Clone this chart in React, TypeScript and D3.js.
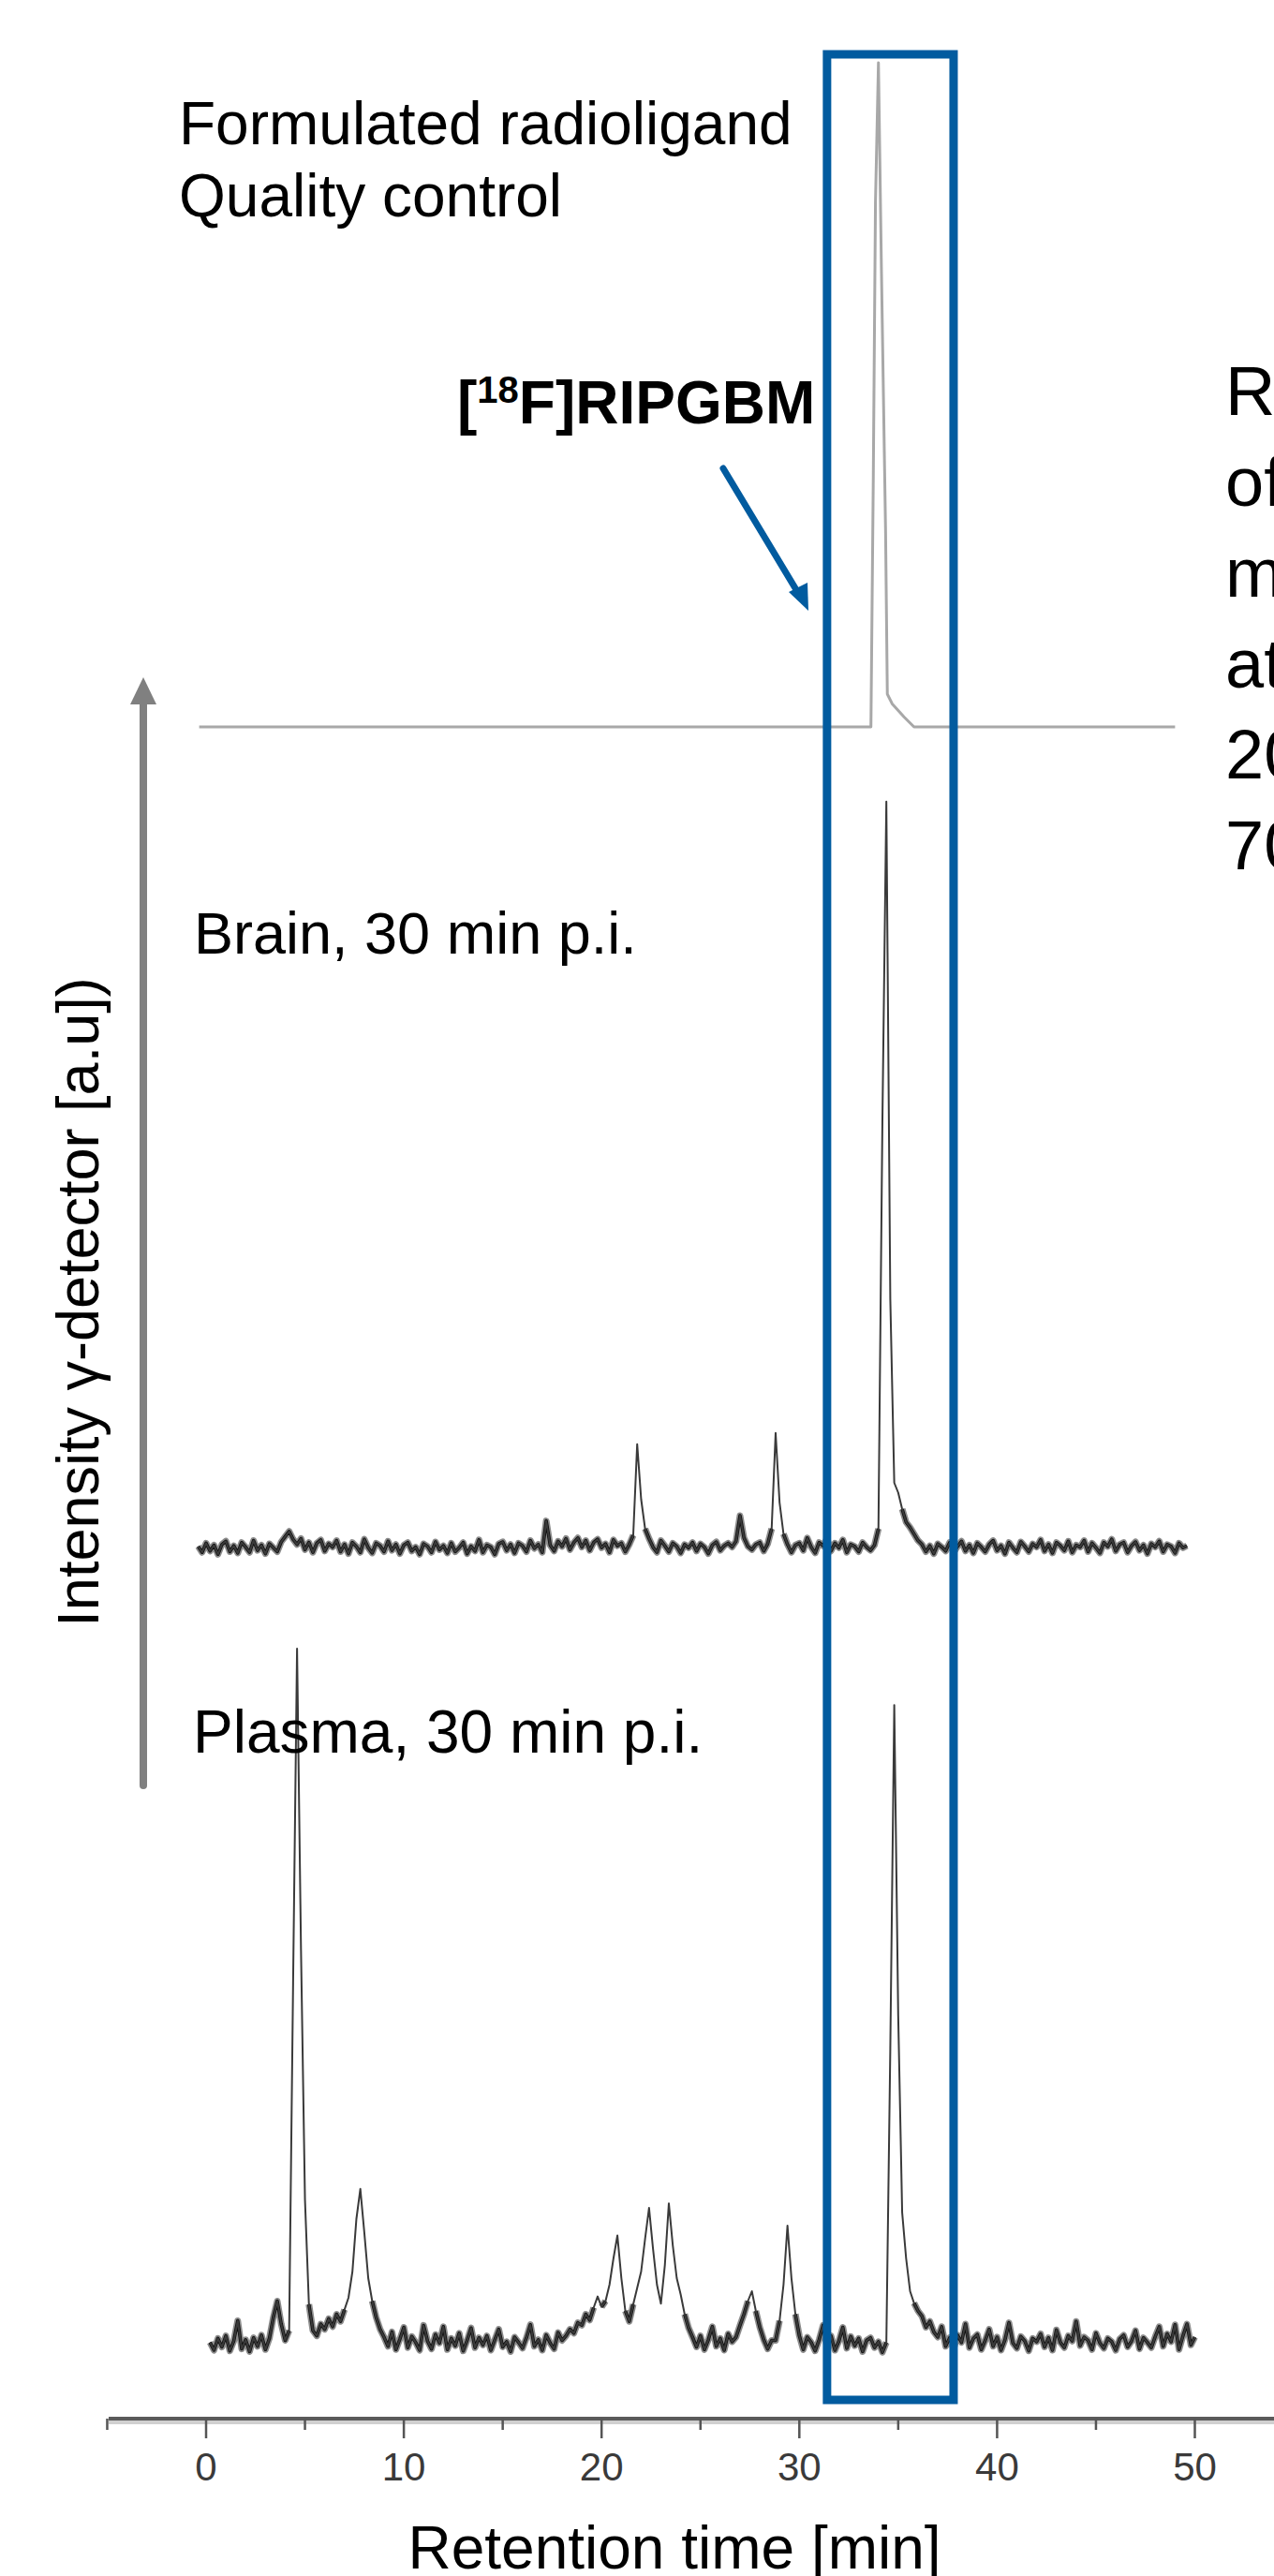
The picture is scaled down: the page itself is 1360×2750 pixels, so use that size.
import React, { useEffect, useRef } from 'react';
import * as d3 from 'd3';

// retention time axis (min)
const xDomain = [0, 50];
const xTickLabels = [0, 10, 20, 30, 40, 50];
const xTickMarks = [-5, 0, 5, 10, 15, 20, 25, 30, 35, 40, 45, 50, 55];
const highlightRange = [31.4, 37.8];

// formulated radioligand QC trace, [min, a.u.]
const qcTrace = [
  [-0.35, 0], [33.62, 0], [33.74, 38], [33.85, 80], [34.0, 101.3], [34.15, 70],
  [34.36, 30], [34.45, 5], [34.7, 3.5], [35.3, 1.5], [35.8, 0], [49.0, 0],
];

// brain and plasma traces, one reading every 0.2 min (a.u.)
const sampleStep = 0.2;
const brainStart = -0.4;
const brainValues = [
  0.3, -0.6, 0.8, -0.4, 0.5, -0.9, 0.6, 1.1, -0.5, 0.4,
  -0.7, 0.9, 0.2, -0.6, 1.2, -0.3, 0.5, -0.8, 0.7, 0.1,
  -0.5, 1.0, 1.8, 2.6, 1.4, 0.6, 1.5, -0.2, 0.9, -0.6,
  0.8, 1.3, -0.4, 0.7, 0.2, 1.2, -0.5, 0.6, -0.8, 0.9,
  0.3, -0.6, 1.4, 0.1, -0.7, 0.8, 0.4, -0.5, 1.1, -0.3,
  0.6, -0.8, 0.5, 0.9, -0.4, 0.2, -0.9, 0.7, 0.3, -0.6,
  1.0, -0.2, 0.4, -0.7, 0.8, -0.5, 0.1, 0.9, -0.8, 0.3,
  -0.4, 1.3, -0.6, 0.5, 0.2, -0.9, 0.7, 1.0, -0.3, 0.6,
  -0.7, 0.8, 0.4, -0.5, 1.2, 0.0, 0.6, -0.6, 4.2, 0.5,
  -0.4, 1.1, 0.3, 1.5, -0.2, 0.9, 1.6, 0.2, 1.2, -0.3,
  0.9, 1.4, 0.1, 0.7, -0.6, 1.3, 0.4, 0.8, -0.5, 0.6,
  2.0, 15.9, 7.5, 3.0, 1.5, 0.2, -0.6, 1.2, 0.4, -0.5,
  0.8, 0.3, -0.7, 0.6, 0.1, 0.9, -0.4, 0.7, 0.2, -0.8,
  0.5, 1.0, -0.3, 0.4, 0.8, 0.2, 1.1, 5.0, 1.6, 0.3,
  -0.2, 0.6, 0.9, -0.4, 0.7, 3.0, 17.6, 7.0, 2.2, 0.6,
  -0.6, 0.5, 0.8, -0.3, 1.6, 0.2, -0.7, 0.9, 0.4, 1.5,
  -0.4, 0.8, 0.1, 1.3, -0.6, 0.6, 0.3, -0.5, 0.9, 0.2,
  -0.3, 0.5, 3.0, 65, 113.9, 38, 10, 8.5, 6.0, 4.0,
  3.2, 2.2, 1.2, 0.6, -0.5, 0.4, -0.8, 0.7, 0.2, -0.4,
  0.9, -0.6, 0.3, 1.1, -0.4, 0.5, -0.7, 0.8, 0.2, -0.5,
  0.6, 1.2, -0.3, 0.4, -0.8, 0.9, 0.1, -0.6, 1.0, 0.3,
  -0.5, 0.7, 0.2, 1.3, -0.4, 0.6, -0.7, 0.9, 0.4, -0.3,
  1.1, -0.6, 0.5, 0.2, 1.2, -0.5, 0.8, 0.1, -0.7, 0.9,
  0.3, 1.4, -0.4, 0.6, 0.9, -0.6, 0.4, 1.0, -0.3, 0.5,
  -0.8, 0.7, 0.2, 1.1, -0.5, 0.6, 0.3, -0.7, 0.8, 0.1,
  0.4,
];
const plasmaStart = 0.2;
const plasmaValues = [
  0.2, -1.0, 0.8, -0.5, 1.2, -1.1, 0.4, 3.5, -0.8, 0.6,
  -1.2, 0.9, -0.4, 1.3, -0.9, 0.8, 4.0, 6.5, 3.0, 0.5,
  2.0, 55, 106, 60, 22, 6, 2.0, 1.2, 3.0, 2.2,
  3.8, 2.6, 4.5, 3.4, 5.2, 7.0, 11, 19, 23.6, 17,
  10, 6.5, 4.0, 2.2, 1.0, -0.4, 1.8, -0.9, 0.7, 2.5,
  -0.6, 1.1, 0.2, -1.0, 2.8, 0.4, -0.8, 1.4, 0.1, 2.6,
  -0.9, 0.8, -0.3, 1.6, -1.1, 0.5, 2.4, -0.6, 0.9, -0.2,
  1.2, -1.0, 0.6, 2.2, -0.5, 0.3, -1.2, 1.0, 0.2, -0.7,
  0.9, 2.9, -0.4, 0.6, -1.0, 1.3, 0.1, -0.8, 1.7, 0.5,
  1.2, 2.2, 1.6, 3.2, 2.8, 4.5, 3.6, 5.5, 7.2, 5.6,
  6.5, 9, 13, 16.5, 10, 5, 3.4, 6, 8.5, 11,
  16, 20.7, 14.5, 9, 6.1, 12, 21.4, 15, 10, 7.5,
  4.5, 2.4, 1.0, -0.5, 1.2, -0.9, 0.6, 2.6, -0.4, 0.8,
  -1.0, 1.5, 0.3, 1.0, 2.8, 4.5, 6.5, 8.0, 5.0, 2.5,
  0.6, -0.8, 0.5, 0.5, 3.5, 9, 18, 10, 4.5, 1.2,
  -0.9, 1.0, 0.2, -1.1, 0.6, 2.8, -0.5, 1.2, -1.0, 0.4,
  2.5, -0.7, 1.1, -0.3, 0.8, -1.2, 0.5, 0.9, -0.6, 0.3,
  -1.3, 0.2, 45, 97.4, 50, 20, 13, 8, 6.2, 5,
  4.2, 2.5, 3.4, 1.8, 1.0, 2.6, -0.4, 0.9, -0.8, 1.3,
  0.2, 3.0, -0.6, 0.8, 1.4, -0.9, 0.5, 2.2, -0.4, 1.0,
  -1.0, 0.6, 3.2, 0.1, -0.7, 1.1, 0.4, -1.1, 0.8, 0.3,
  1.5, -0.5, 0.9, -1.0, 2.1, 0.2, -0.6, 1.2, 0.4, 3.4,
  -0.3, 1.0, 0.5, -0.9, 1.6, 0.1, -0.7, 0.8, 0.3, -1.0,
  0.7, 1.3, -0.5, 0.4, 2.0, -0.8, 0.9, 0.2, -0.6, 1.1,
  2.6, -0.4, 1.5, 0.3, 2.9, -0.9, 1.2, 3.0, -0.2, 1.0,
];

const panelLabels = ['Brain, 30 min p.i.', 'Plasma, 30 min p.i.'];
const qcLabel = ['Formulated radioligand', 'Quality control'];
const sideText = ['R', 'of', 'm', 'at', '20', '70'];

const BLUE = '#015b9f';
const FONT = '"Liberation Sans", Arial, sans-serif';

const App = () => {
  const ref = useRef(null);

  useEffect(() => {
    const svg = d3.select(ref.current);
    svg.selectAll('*').remove();

    const x = d3.scaleLinear().domain(xDomain).range([220, 1275.5]);
    const yAt = (base) => d3.scaleLinear().domain([0, 100]).range([base, base - 700]);

    const toPoints = (start, vals) => vals.map((v, i) => [start + i * sampleStep, v]);

    const traces = [
      { pts: qcTrace, y: yAt(776), noisy: false },
      { pts: toPoints(brainStart, brainValues), y: yAt(1653), noisy: true },
      { pts: toPoints(plasmaStart, plasmaValues), y: yAt(2502), noisy: true },
    ];

    traces.forEach((tr) => {
      const line = d3.line().x((d) => x(d[0])).y((d) => tr.y(d[1]));
      if (tr.noisy) {
        // thick dark band along the noisy baseline, thin stroke on the peaks
        const band = d3.line().defined((d) => d[1] < 7).x((d) => x(d[0])).y((d) => tr.y(d[1]));
        svg.append('path').attr('d', band(tr.pts)).attr('fill', 'none')
          .attr('stroke', '#8c8c8c').attr('stroke-width', 7).attr('stroke-linejoin', 'round');
        svg.append('path').attr('d', band(tr.pts)).attr('fill', 'none')
          .attr('stroke', '#0d0d0d').attr('stroke-width', 3.5).attr('stroke-linejoin', 'round');
        svg.append('path').attr('d', line(tr.pts)).attr('fill', 'none')
          .attr('stroke', '#3a3a3a').attr('stroke-width', 2).attr('stroke-linejoin', 'round');
      } else {
        svg.append('path').attr('d', line(tr.pts)).attr('fill', 'none')
          .attr('stroke', '#a8a8a8').attr('stroke-width', 3).attr('stroke-linejoin', 'round');
      }
    });

    // x axis
    const axisY = 2582;
    svg.append('rect').attr('x', 116).attr('y', axisY + 2).attr('width', 1244).attr('height', 4).attr('fill', '#d0d0d0');
    svg.append('line').attr('x1', 116).attr('x2', 1360).attr('y1', axisY).attr('y2', axisY)
      .attr('stroke', '#5a5a5a').attr('stroke-width', 4);
    svg.selectAll('.tick').data(xTickMarks).enter().append('line')
      .attr('x1', (d) => x(d)).attr('x2', (d) => x(d))
      .attr('y1', axisY).attr('y2', (d) => axisY + (d % 10 === 0 ? 21 : 12))
      .attr('stroke', '#555').attr('stroke-width', 2.5);
    svg.selectAll('.tlabel').data(xTickLabels).enter().append('text')
      .attr('x', (d) => x(d)).attr('y', 2648).attr('text-anchor', 'middle')
      .attr('font-family', FONT).attr('font-size', 42).attr('fill', '#3a3a3a')
      .text((d) => d);
    svg.append('text').attr('x', 720).attr('y', 2742).attr('text-anchor', 'middle')
      .attr('font-family', FONT).attr('font-size', 64).attr('fill', '#000')
      .text('Retention time [min]');

    // y arrow + label
    svg.append('line').attr('x1', 153).attr('x2', 153).attr('y1', 1906).attr('y2', 745)
      .attr('stroke', '#808080').attr('stroke-width', 8).attr('stroke-linecap', 'round');
    svg.append('path').attr('d', 'M153,723 L167,752 L139,752 Z').attr('fill', '#808080');
    svg.append('text').attr('transform', 'translate(105,1390) rotate(-90)')
      .attr('text-anchor', 'middle').attr('font-family', FONT).attr('font-size', 63)
      .text('Intensity γ-detector [a.u])');

    // highlight box
    svg.append('rect').attr('x', x(highlightRange[0])).attr('y', 58)
      .attr('width', x(highlightRange[1]) - x(highlightRange[0])).attr('height', 2504)
      .attr('fill', 'none').attr('stroke', BLUE).attr('stroke-width', 9);

    // labels
    qcLabel.forEach((t, i) => {
      svg.append('text').attr('x', 191).attr('y', 154 + i * 77)
        .attr('font-family', FONT).attr('font-size', 64).text(t);
    });
    svg.append('text').attr('x', 207).attr('y', 1018).attr('font-family', FONT).attr('font-size', 63).text(panelLabels[0]);
    svg.append('text').attr('x', 206).attr('y', 1871).attr('font-family', FONT).attr('font-size', 64).text(panelLabels[1]);

    const comp = svg.append('text').attr('x', 488).attr('y', 452)
      .attr('font-family', FONT).attr('font-size', 64).attr('font-weight', 'bold');
    comp.append('tspan').text('[');
    comp.append('tspan').attr('font-size', 40).attr('dy', -22).text('18');
    comp.append('tspan').attr('dy', 22).text('F]RIPGBM');

    // blue pointer arrow
    svg.append('line').attr('x1', 772).attr('y1', 500).attr('x2', 852).attr('y2', 633)
      .attr('stroke', BLUE).attr('stroke-width', 7).attr('stroke-linecap', 'round');
    svg.append('path').attr('d', 'M863,652 L842,632 L862,622 Z').attr('fill', BLUE);

    // side text, cut by the right edge
    sideText.forEach((t, i) => {
      svg.append('text').attr('x', 1308).attr('y', 443 + i * 97)
        .attr('font-family', FONT).attr('font-size', 74).text(t);
    });
  }, []);

  return (
    <div style={{ position: 'absolute', left: 0, top: 0, width: 1360, height: 2750, background: '#fff' }}>
      <svg ref={ref} width={1360} height={2750} style={{ display: 'block', overflow: 'hidden' }} />
    </div>
  );
};

export default App;
